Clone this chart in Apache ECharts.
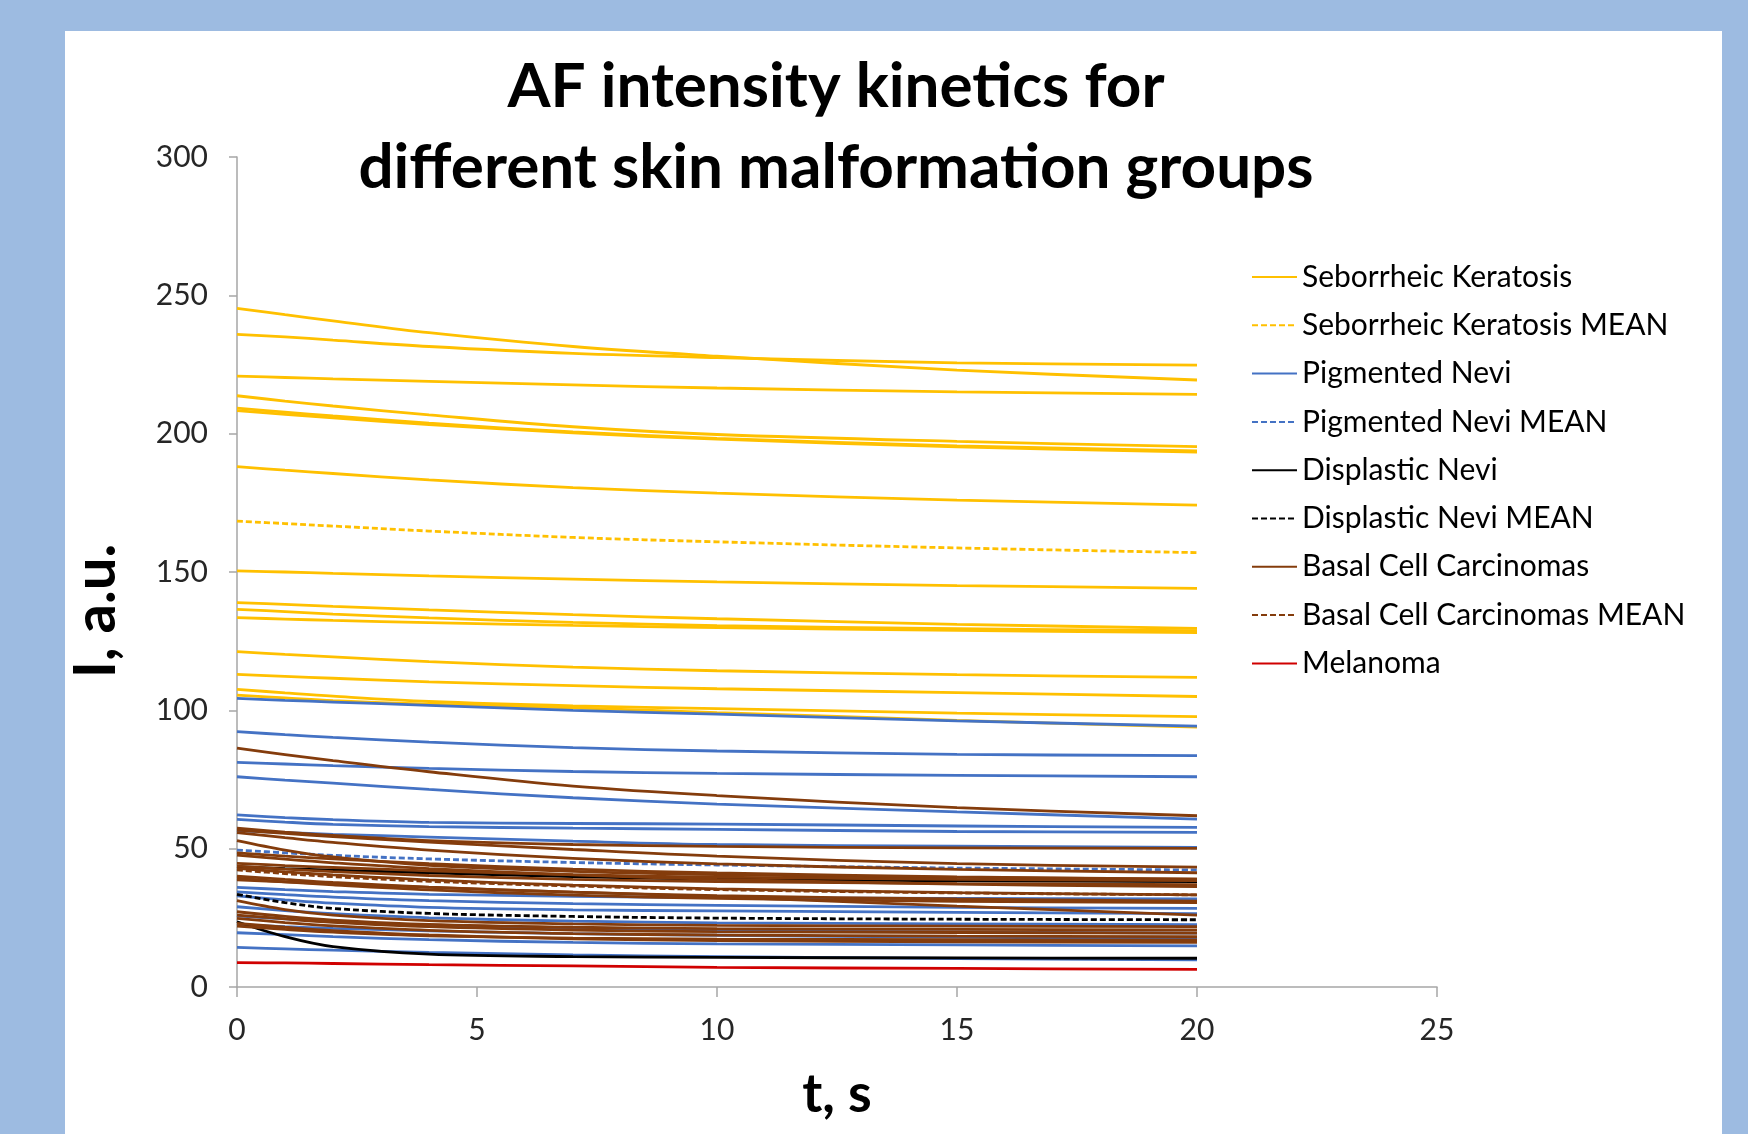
<!DOCTYPE html>
<html>
<head>
<meta charset="utf-8">
<script src="https://cdn.jsdelivr.net/npm/echarts@6/dist/echarts.min.js"></script>
<style>
  html, body { margin: 0; padding: 0; background: #9DBBE1; }
  #chart { width: 1748px; height: 1134px; }
</style>
</head>
<body>
<div id="chart"></div>
<script>
// time points (s)
const T = [0, 1, 2, 4, 7, 10, 15, 20];

// axis ticks
const xTicks = [0, 5, 10, 15, 20, 25];
const yTicks = [0, 50, 100, 150, 200, 250, 300];

// Seborrheic Keratosis
const sk01 = [245.3, 243.0, 240.8, 236.5, 231.5, 228.0, 223.0, 219.4];
const sk02 = [235.9, 235.0, 233.8, 231.5, 229.0, 227.5, 225.6, 224.8];
const sk03 = [220.8, 220.3, 219.8, 218.9, 217.6, 216.5, 215.1, 214.2];
const sk04 = [213.7, 211.8, 210.0, 206.8, 202.5, 199.7, 197.2, 195.3];
const sk05 = [209.2, 207.8, 206.4, 203.8, 200.6, 198.3, 195.6, 193.8];
const sk06 = [208.3, 207.0, 205.7, 203.3, 200.3, 198.0, 195.2, 193.3];
const sk07 = [188.1, 186.8, 185.6, 183.3, 180.5, 178.5, 176.0, 174.2];
const sk08 = [150.4, 150.0, 149.5, 148.6, 147.4, 146.4, 145.1, 144.1];
const sk09 = [138.9, 138.3, 137.6, 136.3, 134.6, 133.1, 131.1, 129.6];
const sk10 = [136.5, 135.7, 134.8, 133.4, 131.8, 130.6, 129.5, 128.8];
const sk11 = [133.5, 133.0, 132.5, 131.7, 130.7, 129.9, 128.9, 128.1];
const sk12 = [121.2, 120.2, 119.3, 117.6, 115.6, 114.3, 112.9, 111.9];
const sk13 = [113.0, 112.3, 111.6, 110.3, 108.9, 107.8, 106.4, 105.0];
const sk14 = [107.6, 106.3, 105.1, 103.2, 101.6, 100.6, 99.0, 97.7];
const sk15 = [105.5, 104.5, 103.5, 102.2, 100.9, 99.2, 96.4, 93.9];
const skMean = [168.4, 167.5, 166.6, 164.8, 162.5, 160.9, 158.7, 157.0];

// Pigmented Nevi
const pn01 = [104.3, 103.6, 103.0, 101.8, 100.0, 98.6, 96.2, 94.3];
const pn02 = [92.3, 91.2, 90.2, 88.5, 86.5, 85.3, 84.1, 83.6];
const pn03 = [81.2, 80.6, 80.0, 79.0, 77.9, 77.2, 76.5, 76.0];
const pn04 = [76.0, 74.8, 73.7, 71.4, 68.4, 66.1, 63.3, 60.7];
const pn05 = [62.2, 61.2, 60.5, 59.5, 59.1, 58.9, 58.2, 57.7];
const pn06 = [60.6, 59.6, 58.8, 58.0, 57.4, 57.0, 56.2, 55.9];
const pn07 = [56.5, 55.8, 55.2, 54.2, 52.7, 51.5, 50.9, 50.5];
const pn08 = [36.0, 35.2, 34.5, 33.5, 32.8, 32.3, 32.0, 31.8];
const pn09 = [34.4, 33.4, 32.5, 31.2, 30.1, 29.5, 28.8, 28.4];
const pn10 = [32.9, 31.5, 30.3, 28.8, 27.9, 27.5, 27.0, 26.5];
const pn11 = [29.0, 27.6, 26.5, 25.0, 23.8, 23.2, 22.8, 22.5];
const pn12 = [25.7, 24.6, 23.6, 22.0, 21.0, 20.4, 19.9, 19.5];
const pn13 = [22.5, 21.8, 21.2, 20.3, 19.3, 18.7, 18.0, 17.5];
const pn14 = [19.6, 18.9, 18.2, 17.1, 16.1, 15.6, 15.2, 14.9];
const pn15 = [14.3, 13.8, 13.3, 12.5, 11.6, 11.0, 10.3, 9.8];
const pnMean = [49.5, 48.5, 47.6, 46.3, 45.0, 44.1, 43.0, 42.3];

// Displastic Nevi
const dn01 = [23.6, 18.2, 14.6, 11.9, 11.0, 10.7, 10.5, 10.4];
const dn02 = [43.5, 42.8, 42.2, 41.3, 39.9, 39.0, 38.4, 38.1];
const dnMean = [33.5, 30.5, 28.4, 26.6, 25.5, 24.9, 24.5, 24.3];

// Basal Cell Carcinomas
const bcc01 = [86.3, 84.0, 81.8, 77.8, 72.6, 69.2, 64.8, 61.9];
const bcc02 = [57.4, 56.0, 54.8, 52.9, 51.5, 50.8, 50.3, 50.1];
const bcc03 = [56.7, 55.5, 54.4, 52.4, 49.7, 47.3, 44.6, 43.3];
const bcc04 = [55.8, 54.0, 52.3, 49.5, 46.5, 44.5, 42.5, 41.3];
const bcc05 = [52.9, 49.5, 47.0, 44.0, 41.8, 40.6, 39.6, 39.0];
const bcc06 = [48.5, 47.3, 46.3, 44.6, 42.6, 41.2, 39.8, 39.0];
const bcc07 = [47.7, 46.2, 44.9, 42.8, 40.5, 38.9, 37.2, 36.3];
const bcc08 = [44.7, 43.9, 43.2, 42.0, 40.6, 39.7, 38.9, 38.5];
const bcc09 = [43.7, 42.6, 41.7, 40.3, 38.9, 38.1, 37.4, 37.0];
const bcc10 = [42.9, 41.6, 40.5, 38.7, 36.8, 35.5, 34.1, 33.3];
const bcc11 = [40.1, 38.9, 37.8, 36.1, 34.3, 33.0, 31.8, 31.0];
const bcc12 = [39.3, 38.0, 36.9, 35.1, 33.2, 32.0, 31.0, 30.5];
const bcc13 = [38.7, 38.0, 37.3, 36.0, 34.3, 32.6, 29.2, 26.0];
const bcc14 = [31.2, 28.0, 26.0, 24.0, 22.8, 22.3, 22.0, 21.8];
const bcc15 = [27.2, 25.5, 24.2, 22.6, 21.6, 21.1, 20.8, 20.6];
const bcc16 = [26.0, 24.6, 23.4, 21.8, 20.6, 20.0, 19.7, 19.5];
const bcc17 = [24.8, 23.3, 22.1, 20.5, 19.3, 18.8, 18.4, 18.2];
const bcc18 = [23.0, 21.6, 20.4, 18.8, 17.4, 16.8, 16.3, 16.1];
const bcc19 = [22.0, 20.8, 19.8, 18.5, 17.7, 17.3, 17.1, 17.0];
const bccMean = [42.3, 41.0, 39.9, 38.2, 36.5, 35.2, 34.0, 33.3];

// Melanoma
const mel01 = [8.8, 8.7, 8.5, 8.1, 7.6, 7.1, 6.7, 6.4];

const NAMES = {
  sk: 'Seborrheic Keratosis', skM: 'Seborrheic Keratosis MEAN',
  pn: 'Pigmented Nevi', pnM: 'Pigmented Nevi MEAN',
  dn: 'Displastic Nevi', dnM: 'Displastic Nevi MEAN',
  bcc: 'Basal Cell Carcinomas', bccM: 'Basal Cell Carcinomas MEAN',
  mel: 'Melanoma'
};
const COLORS = { sk: '#FFC000', pn: '#4472C4', dn: '#000000', bcc: '#843C0C', mel: '#D00000' };

function mk(name, vals, color, dashed) {
  return {
    type: 'line', name: name,
    data: T.map((t, i) => [t, vals[i]]),
    symbol: 'none', showSymbol: false, smooth: 0.35, silent: true,
    lineStyle: { color: color, width: 2.8, type: dashed ? [6, 3] : 'solid' },
    itemStyle: { color: color }
  };
}

const series = [];
[sk01, sk02, sk03, sk04, sk05, sk06, sk07, sk08, sk09, sk10, sk11, sk12, sk13, sk14, sk15]
  .forEach(v => series.push(mk(NAMES.sk, v, COLORS.sk, false)));
series.push(mk(NAMES.skM, skMean, COLORS.sk, true));
[pn01, pn02, pn03, pn04, pn05, pn06, pn07, pn08, pn09, pn10, pn11, pn12, pn13, pn14, pn15]
  .forEach(v => series.push(mk(NAMES.pn, v, COLORS.pn, false)));
series.push(mk(NAMES.pnM, pnMean, COLORS.pn, true));
[dn01, dn02].forEach(v => series.push(mk(NAMES.dn, v, COLORS.dn, false)));
series.push(mk(NAMES.dnM, dnMean, COLORS.dn, true));
[bcc01, bcc02, bcc03, bcc04, bcc05, bcc06, bcc07, bcc08, bcc09, bcc10, bcc11, bcc12, bcc13, bcc14, bcc15, bcc16, bcc17, bcc18, bcc19]
  .forEach(v => series.push(mk(NAMES.bcc, v, COLORS.bcc, false)));
series.push(mk(NAMES.bccM, bccMean, COLORS.bcc, true));
series.push(mk(NAMES.mel, mel01, COLORS.mel, false));

const chart = echarts.init(document.getElementById('chart'));
chart.setOption({
  animation: false,
  backgroundColor: '#9DBBE1',
  graphic: [{
    type: 'rect', z: -10, silent: true,
    shape: { x: 65, y: 31, width: 1657, height: 1110 },
    style: { fill: '#FFFFFF' }
  }],
  title: {
    text: 'AF intensity kinetics for\ndifferent skin malformation groups',
    left: 836, top: 46, textAlign: 'center', padding: 0,
    textStyle: { fontFamily: 'Lato', fontWeight: 'bold', fontSize: 62, lineHeight: 81, color: '#000' }
  },
  legend: {
    orient: 'vertical', left: 1251, top: 260, padding: 0,
    itemWidth: 45, itemHeight: 14, itemGap: 14.3,
    selectedMode: false,
    itemStyle: { opacity: 0 },
    textStyle: { fontFamily: 'Lato', fontSize: 30, lineHeight: 34, color: '#000' },
    data: [NAMES.sk, NAMES.skM, NAMES.pn, NAMES.pnM, NAMES.dn, NAMES.dnM, NAMES.bcc, NAMES.bccM, NAMES.mel]
  },
  grid: { left: 237, top: 157, width: 1200, height: 830, containLabel: false },
  xAxis: {
    type: 'value', min: xTicks[0], max: xTicks[xTicks.length - 1], interval: 5,
    name: 't, s', nameLocation: 'middle', nameGap: 81,
    nameTextStyle: { fontFamily: 'Lato', fontWeight: 'bold', fontSize: 54, color: '#000' },
    axisLine: { show: true, lineStyle: { color: '#A6A6A6', width: 1.5 } },
    axisTick: { show: true, length: 10, lineStyle: { color: '#A6A6A6', width: 1.5 } },
    axisLabel: { fontFamily: 'Lato', fontSize: 30, color: '#262626', margin: 28 },
    splitLine: { show: false }
  },
  yAxis: {
    type: 'value', min: yTicks[0], max: yTicks[yTicks.length - 1], interval: 50,
    name: 'I, a.u.', nameLocation: 'middle', nameGap: 112, nameRotate: 90,
    nameTextStyle: { fontFamily: 'Lato', fontWeight: 'bold', fontSize: 58, color: '#000', padding: [0, 78, 0, 0] },
    axisLine: { show: true, lineStyle: { color: '#A6A6A6', width: 1.5 } },
    axisTick: { show: true, length: 8, lineStyle: { color: '#A6A6A6', width: 1.5 } },
    axisLabel: { fontFamily: 'Lato', fontSize: 30, color: '#262626', margin: 29 },
    splitLine: { show: false }
  },
  series: series
});
</script>
</body>
</html>
